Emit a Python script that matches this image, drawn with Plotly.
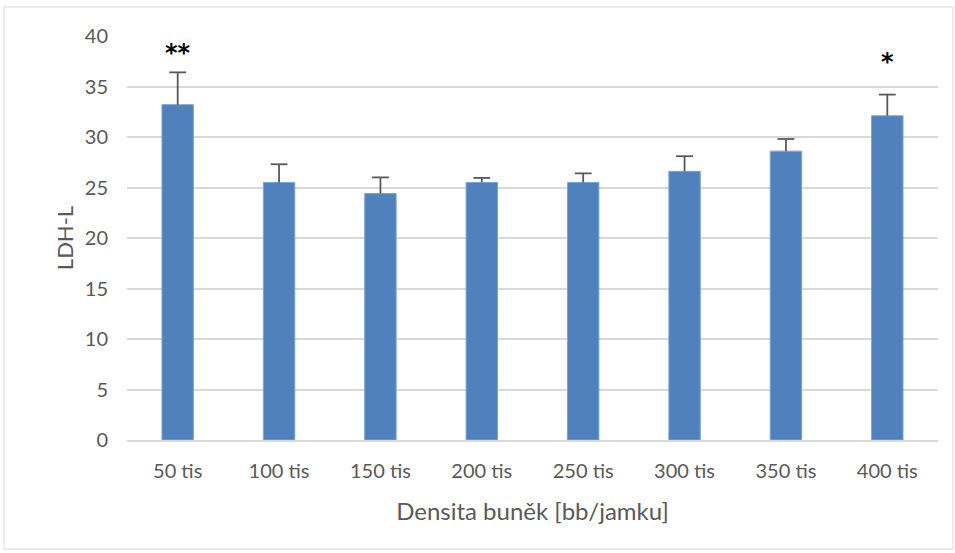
import plotly.graph_objects as go

categories = ["50 tis", "100 tis", "150 tis", "200 tis", "250 tis", "300 tis", "350 tis", "400 tis"]
ldh_values = [33.2, 25.5, 24.4, 25.5, 25.5, 26.6, 28.6, 32.1]
ldh_errors = [3.2, 1.8, 1.6, 0.45, 0.9, 1.5, 1.2, 2.1]
sig_labels = ["**", "", "", "", "", "", "", "*"]
sig_heights = [38.3, 0, 0, 0, 0, 0, 0, 37.4]
y_ticks = [0, 5, 10, 15, 20, 25, 30, 35, 40]

FONT = "Lato, Calibri, sans-serif"
GREY = "#595959"

fig = go.Figure()
fig.add_trace(go.Bar(
    x=categories,
    y=ldh_values,
    marker=dict(color="#4F81BD", line=dict(color="#7ba3d6", width=1)),
    hoverinfo="x+y",
))

# plus-only error bars (no crossbar at the bar top, as in Excel)
err_x, err_y = [], []
tops = []
for cat, v, e in zip(categories, ldh_values, ldh_errors):
    err_x += [cat, cat, None]
    err_y += [v, v + e, None]
    tops.append(v + e)

fig.add_trace(go.Scatter(
    x=err_x, y=err_y, mode="lines",
    line=dict(color=GREY, width=1.8),
    hoverinfo="skip",
))
fig.add_trace(go.Scatter(
    x=categories, y=tops, mode="markers",
    marker=dict(symbol="line-ew", size=12, line=dict(color=GREY, width=1.8)),
    hoverinfo="skip",
))

for cat, label, h in zip(categories, sig_labels, sig_heights):
    if label:
        fig.add_annotation(x=cat, y=h, text="<b>" + label + "</b>", showarrow=False,
                           font=dict(family="DejaVu Sans", size=24, color="black"))

# outer chart frame
fig.add_shape(type="rect", xref="paper", yref="paper",
              x0=-0.1517, x1=1.0185, y0=-0.27, y1=1.0718,
              line=dict(color="#d9d9d9", width=1), layer="below")

fig.update_layout(
    width=955, height=553,
    margin=dict(l=127, r=17, t=36, b=113),
    plot_bgcolor="white", paper_bgcolor="white",
    showlegend=False,
    bargap=0.69,
    font=dict(family=FONT, color=GREY, size=20),
    xaxis=dict(
        showline=True, linecolor="#d9d9d9", linewidth=1.5,
        showgrid=False,
        ticks="outside", ticklen=12, tickcolor="white",
        tickfont=dict(size=20, color=GREY),
        title=dict(text="Densita buněk [bb/jamku]", font=dict(size=24, color=GREY), standoff=22),
    ),
    yaxis=dict(
        range=[0, 40], tickvals=y_ticks,
        showgrid=True, gridcolor="#d9d9d9", gridwidth=1.5,
        zeroline=False,
        ticks="outside", ticklen=14, tickcolor="white",
        tickfont=dict(size=20, color=GREY),
        title=dict(text="LDH-L", font=dict(size=22, color=GREY), standoff=5),
    ),
)

fig.write_html("out.html", config={"displayModeBar": False},
               post_script="document.body.style.margin='0';")
